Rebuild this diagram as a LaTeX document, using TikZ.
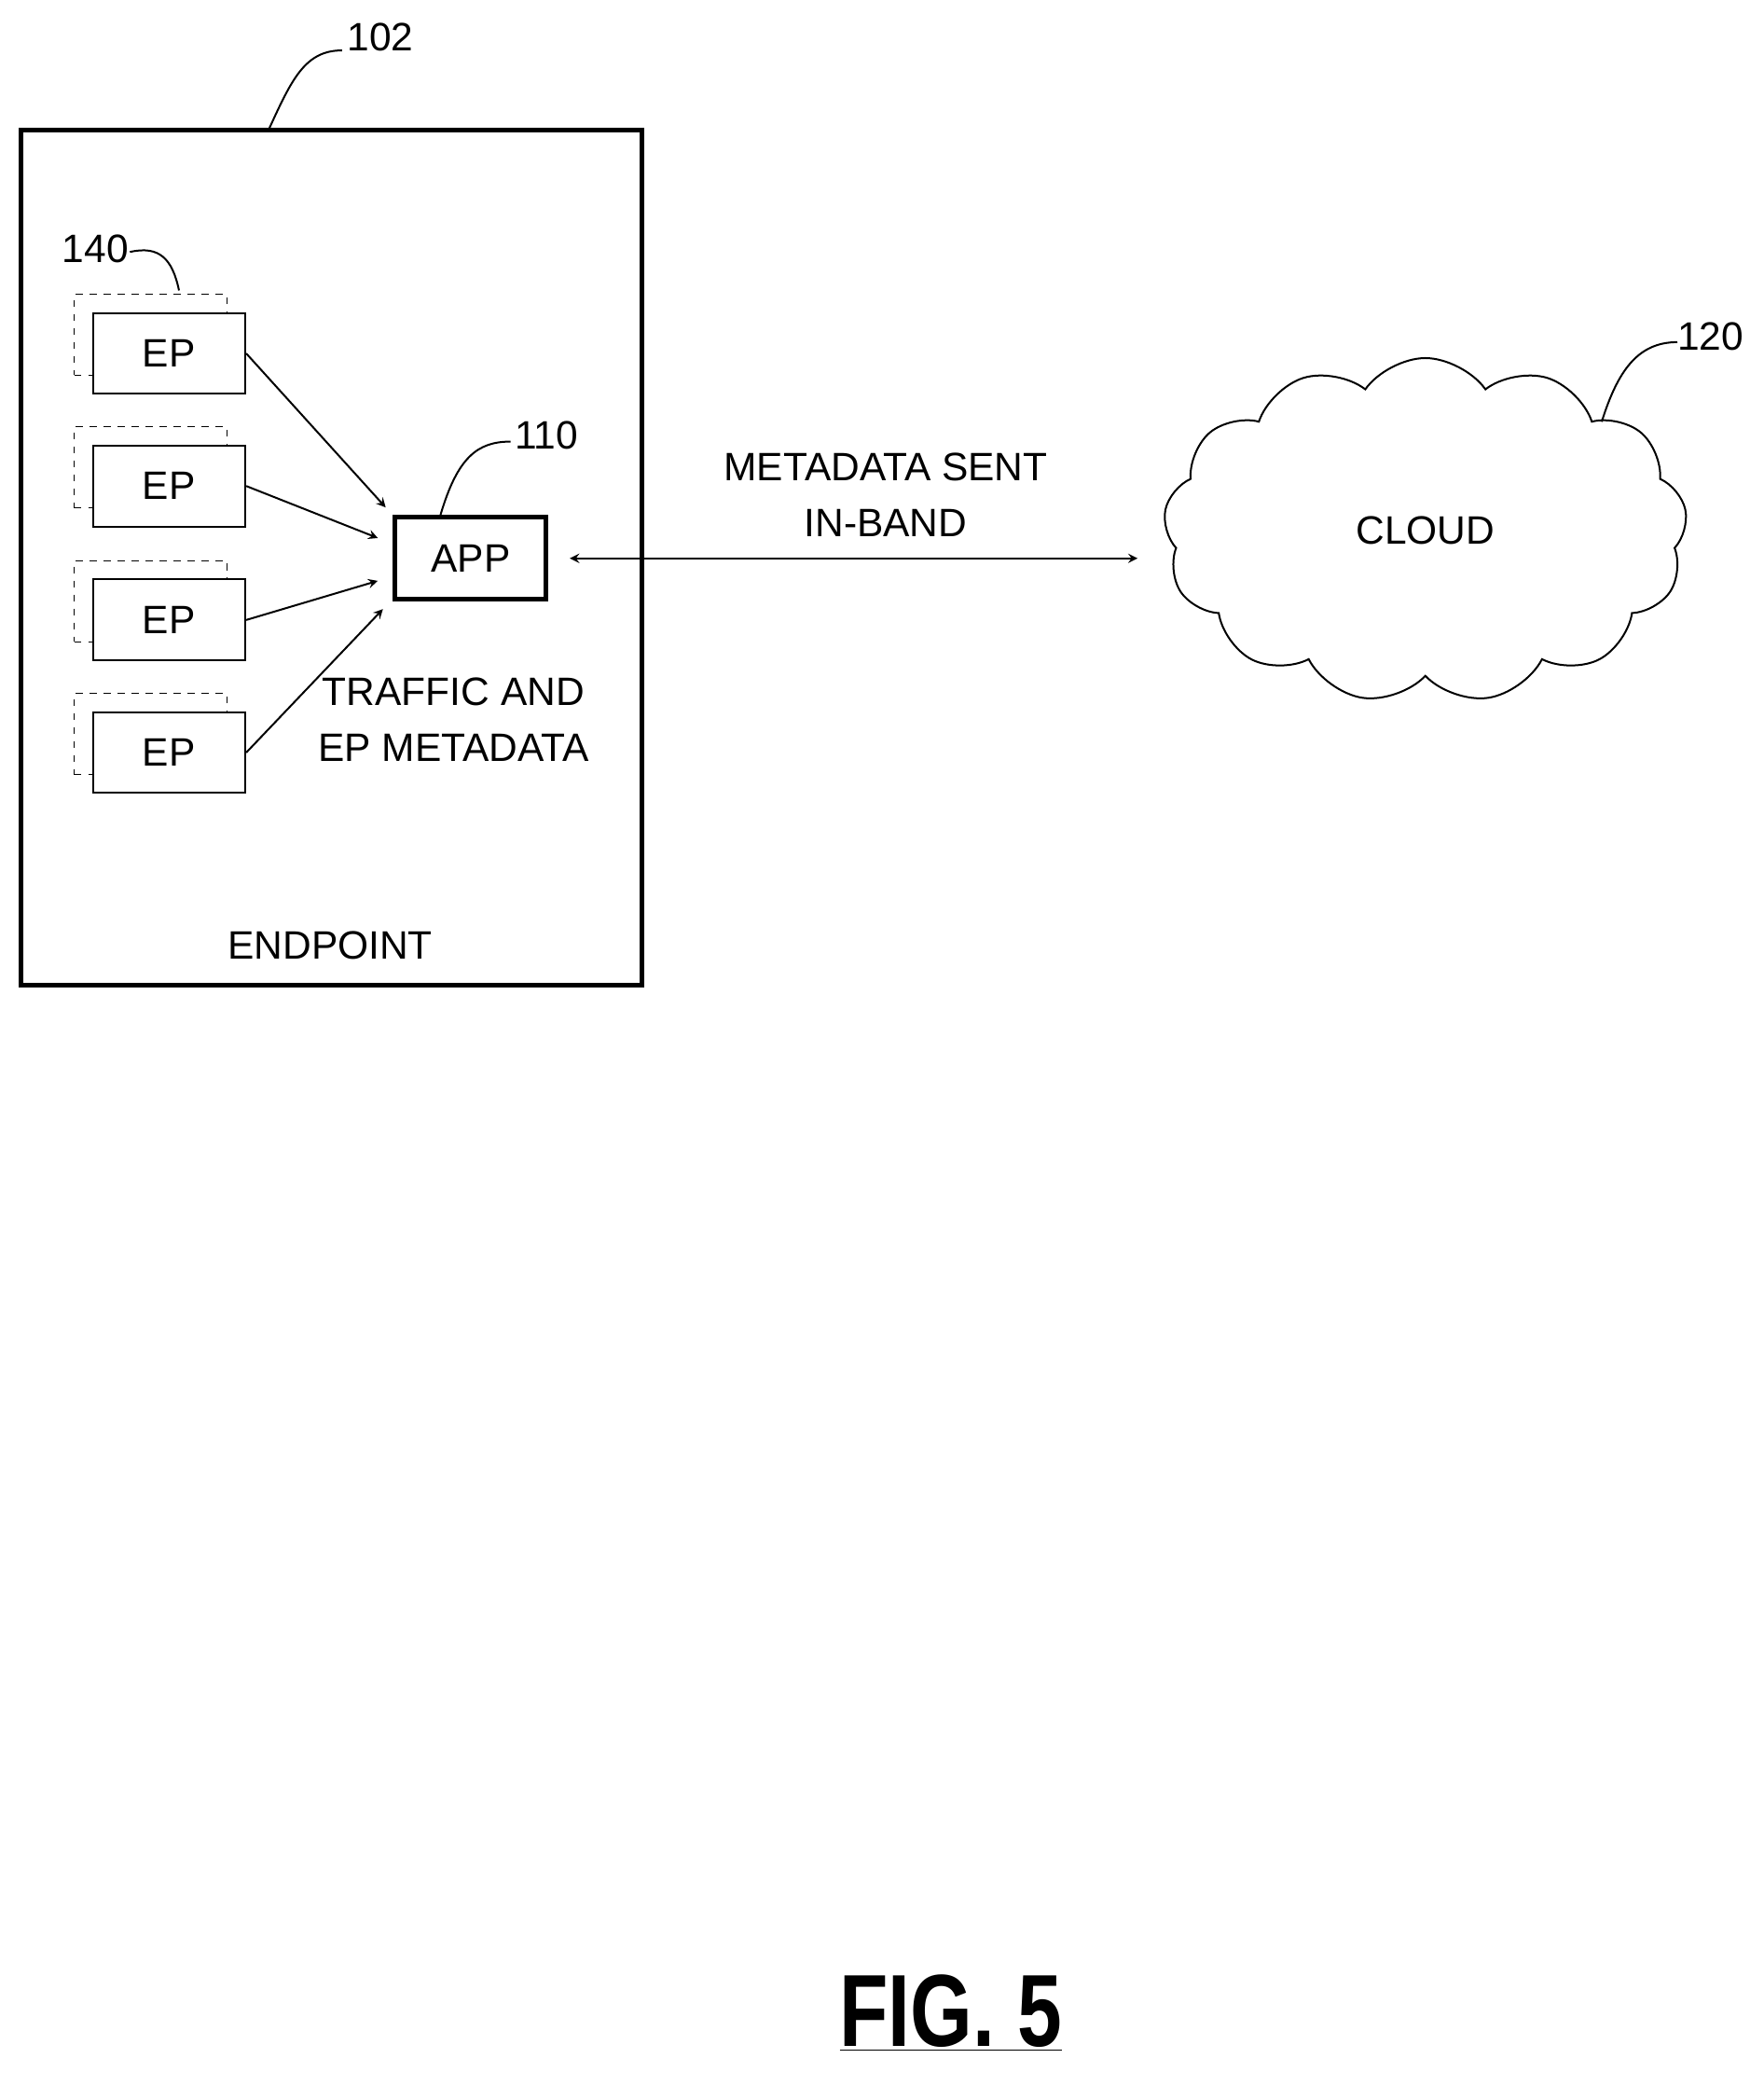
\documentclass[tikz,border=0pt]{standalone}
\usepackage{fontspec}
\setmainfont{Liberation Sans}
\usetikzlibrary{positioning, calc, shapes.symbols}

\begin{document}
\begin{tikzpicture}[
    >=stealth,
    font=\fontsize{17}{24}\selectfont,
    every box/.style={draw, thick, fill=white, minimum width=2.3cm, minimum height=1.22cm},
    ghost/.style={draw, dashed, thin, minimum width=2.3cm, minimum height=1.22cm},
    thickbox/.style={draw, line width=2pt, minimum width=2.28cm, minimum height=1.24cm},
    leader/.style={thick},
    flow/.style={->, thick, shorten >=2pt}
]
   \useasboundingbox (0,0) rectangle (26.6,-31.46);

   % Endpoint
   \node[draw, line width=2pt, minimum width=9.36cm, minimum height=12.9cm] (endpoint) at (5.0,-8.41) {};
   \node (eplabel) at (4.98,-14.26) {ENDPOINT};

   % EPs with dashed copies behind
   \foreach \i/\y in {1/-5.33, 2/-7.33, 3/-9.35, 4/-11.35} {
      \node[ghost] (g\i) at (2.27,\y+0.28) {};
      \node[every box] (ep\i) at (2.55,\y) {EP};
   }

   % App
   \node[thickbox] (app) at (7.1,-8.42) {APP};
   \node[align=center] (traffic) at (6.84,-10.85) {TRAFFIC AND\\EP METADATA};

   % Cloud
   \node[cloud, draw, thick, cloud puffs=13, cloud puff arc=110, aspect=1.5,
         minimum width=7.9cm, minimum height=5.2cm] (cloud) at (21.5,-8.0) {CLOUD};

   % Transitions
   \draw[flow] (ep1.east) -- ($(app.north west)+(-0.06,0.06)$);
   \draw[flow] (ep2.east) -- ($(app.west)+(-0.16,0.28)$);
   \draw[flow] (ep3.east) -- ($(app.west)+(-0.16,-0.32)$);
   \draw[flow] (ep4.east) -- ($(app.south west)+(-0.1,-0.06)$);

   \coordinate (inband) at (17.16,-8.42);
   \draw[<->, thick] ($(app.east)+(0.32,0)$) -- (inband);
   \node[align=center] (meta) at (13.36,-7.46) {METADATA SENT\\IN-BAND};

   % Reference numerals
   \node (n102) at (5.74,-0.56) {102};
   \coordinate (c102) at (5.16,-0.76);
   \draw[leader] (4.06,-1.94) .. controls (4.4,-1.2) and (4.6,-0.76) .. (c102);

   \node (n140) at (1.44,-3.76) {140};
   \coordinate (c140) at (2.7,-4.38);
   \draw[leader] (1.96,-3.8) .. controls (2.4,-3.7) and (2.6,-3.9) .. (c140);

   \node (n110) at (8.24,-6.56) {110};
   \draw[leader] (app.north west) ++(0.72,0) .. controls (6.9,-6.9) and (7.2,-6.66) .. (7.7,-6.66);

   \node (n120) at (25.8,-5.08) {120};
   \draw[leader] (24.16,-6.36) .. controls (24.4,-5.6) and (24.7,-5.16) .. (25.3,-5.16);

   % Figure label
   \node[font=\fontsize{44}{48}\selectfont\bfseries, xscale=0.78] (fig) at (14.34,-30.36) {\underline{FIG. 5}};
\end{tikzpicture}
\end{document}
